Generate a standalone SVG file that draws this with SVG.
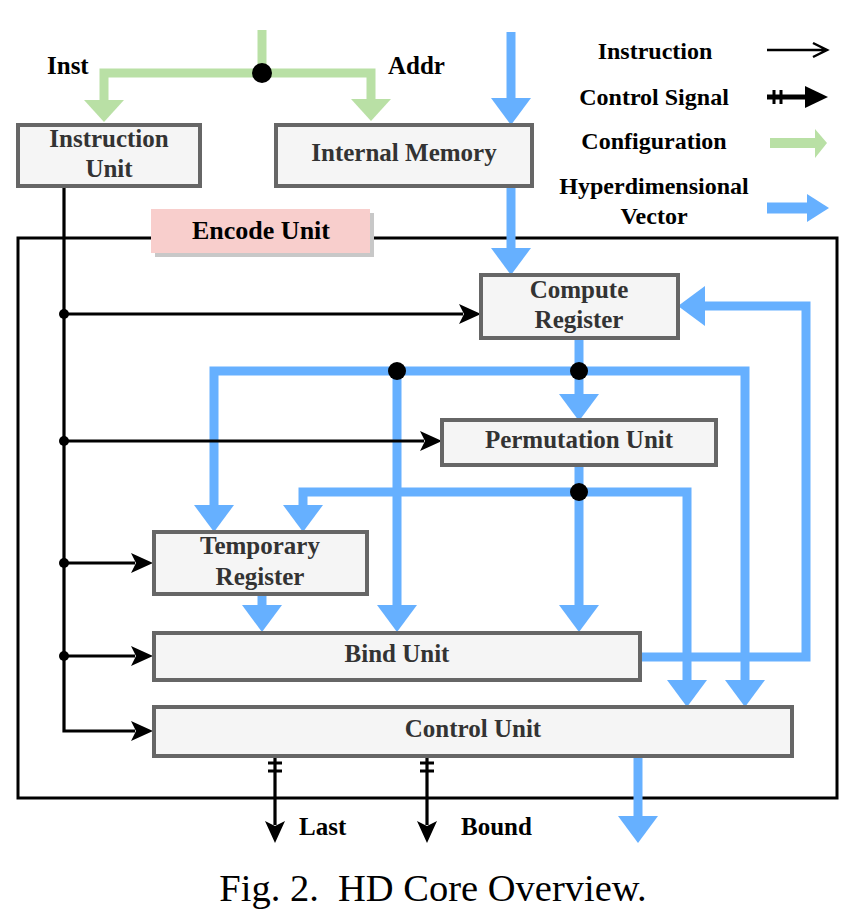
<svg xmlns="http://www.w3.org/2000/svg" width="868" height="917" viewBox="0 0 868 917">
<style>
.box{fill:#f5f5f5;stroke:#666666;stroke-width:4}
.lbl{font-family:"Liberation Serif","Times New Roman",serif;font-weight:bold;font-size:25px;fill:#333333;text-anchor:middle}
.leg{font-family:"Liberation Serif","Times New Roman",serif;font-weight:bold;font-size:24px;fill:#000;text-anchor:middle}
.top{font-family:"Liberation Serif","Times New Roman",serif;font-weight:bold;font-size:25px;fill:#000}
.blue{fill:none;stroke:#66b0ff;stroke-width:9;stroke-linejoin:miter}
.green{fill:none;stroke:#b9e0a5;stroke-width:9;stroke-linejoin:miter}
.blk{fill:none;stroke:#000;stroke-width:3.2}
</style>
<defs>
<marker id="ab" markerUnits="userSpaceOnUse" viewBox="0 0 27 40" markerWidth="27" markerHeight="40" refX="0" refY="20" orient="auto"><path d="M0,0 L27,20 L0,40 Z" fill="#66b0ff"/></marker>
<marker id="ag" markerUnits="userSpaceOnUse" viewBox="0 0 22 40" markerWidth="22" markerHeight="40" refX="0" refY="20" orient="auto"><path d="M0,0 L22,20 L0,40 Z" fill="#b9e0a5"/></marker>
<marker id="ak" markerUnits="userSpaceOnUse" viewBox="0 0 22 20" markerWidth="22" markerHeight="20" refX="4" refY="10" orient="auto"><path d="M0,0 L22,10 L0,20 L5,10 Z" fill="#000"/></marker>
</defs>
<rect width="868" height="917" fill="#fff"/>

<g id="encode-unit">
<rect x="18" y="238" width="819" height="560" fill="none" stroke="#000" stroke-width="3"/>
<rect x="155" y="213" width="219" height="44" fill="#c8c8c8"/>
<rect x="151" y="209" width="219" height="44" fill="#f8cecc"/>
<text class="lbl" x="261" y="239" style="font-size:26px;fill:#000">Encode Unit</text>
</g>

<g id="connectors">
<path class="green" d="M262,30 V73"/>
<path class="green" d="M262,73 H104 V100" marker-end="url(#ag)"/>
<path class="green" d="M262,73 H371 V99" marker-end="url(#ag)"/>
<circle cx="262" cy="73" r="10" fill="#000"/>

<path class="blue" d="M511,32 V98" marker-end="url(#ab)"/>
<path class="blue" d="M511,186 V248" marker-end="url(#ab)"/>
<path class="blue" d="M579,338 V394" marker-end="url(#ab)"/>
<path class="blue" d="M579,371 H214 V505" marker-end="url(#ab)"/>
<path class="blue" d="M579,371 H745 V680" marker-end="url(#ab)"/>
<path class="blue" d="M397,371 V605" marker-end="url(#ab)"/>
<path class="blue" d="M579,465 V605" marker-end="url(#ab)"/>
<path class="blue" d="M579,492 H303 V505" marker-end="url(#ab)"/>
<path class="blue" d="M579,492 H687 V680" marker-end="url(#ab)"/>
<path class="blue" d="M262,594 V605" marker-end="url(#ab)"/>
<path class="blue" d="M640,657 H806 V306 H705" marker-end="url(#ab)"/>
<path class="blue" d="M638,756 V816" marker-end="url(#ab)"/>
<circle cx="397" cy="371" r="9" fill="#000"/>
<circle cx="579" cy="371" r="9" fill="#000"/>
<circle cx="579" cy="492" r="9" fill="#000"/>

<path class="blk" d="M64,186 V731 H135" marker-end="url(#ak)"/>
<path class="blk" d="M64,314 H463" marker-end="url(#ak)"/>
<path class="blk" d="M64,441 H424" marker-end="url(#ak)"/>
<path class="blk" d="M64,563 H135" marker-end="url(#ak)"/>
<path class="blk" d="M64,656 H135" marker-end="url(#ak)"/>
<circle cx="64" cy="314" r="5" fill="#000"/>
<circle cx="64" cy="441" r="5" fill="#000"/>
<circle cx="64" cy="563" r="5" fill="#000"/>
<circle cx="64" cy="656" r="5" fill="#000"/>

<path class="blk" d="M275,756 V825" marker-end="url(#ak)"/>
<path class="blk" d="M427,756 V825" marker-end="url(#ak)"/>
<path class="blk" d="M268,763 H282 M268,771 H282 M420,763 H434 M420,771 H434"/>
</g>

<g id="instruction-unit">
<rect class="box" x="18" y="125" width="182" height="61"/>
<text class="lbl" x="109" y="147">Instruction</text>
<text class="lbl" x="109" y="177">Unit</text>
</g>
<g id="internal-memory">
<rect class="box" x="276" y="125" width="256" height="61"/>
<text class="lbl" x="404" y="161">Internal Memory</text>
</g>
<g id="compute-register">
<rect class="box" x="481" y="275" width="197" height="63"/>
<text class="lbl" x="579" y="298">Compute</text>
<text class="lbl" x="579" y="328">Register</text>
</g>
<g id="permutation-unit">
<rect class="box" x="442" y="420" width="274" height="45"/>
<text class="lbl" x="579" y="448">Permutation Unit</text>
</g>
<g id="temporary-register">
<rect class="box" x="154" y="532" width="213" height="62"/>
<text class="lbl" x="260" y="554">Temporary</text>
<text class="lbl" x="260" y="585">Register</text>
</g>
<g id="bind-unit">
<rect class="box" x="154" y="633" width="486" height="47"/>
<text class="lbl" x="397" y="662">Bind Unit</text>
</g>
<g id="control-unit">
<rect class="box" x="154" y="707" width="638" height="49"/>
<text class="lbl" x="473" y="737">Control Unit</text>
</g>

<g id="labels">
<text class="top" x="47" y="74">Inst</text>
<text class="top" x="388" y="74">Addr</text>
<text class="top" x="299" y="835">Last</text>
<text class="top" x="461" y="835">Bound</text>
</g>

<g id="legend">
<text class="leg" x="655" y="59">Instruction</text>
<path d="M767,50 H826 M813,43 L827,50 L813,57" fill="none" stroke="#000" stroke-width="2.5"/>
<text class="leg" x="654" y="105">Control Signal</text>
<path d="M767,97 H808" stroke="#000" stroke-width="5"/>
<path d="M805,86 L828,97 L805,108 Z" fill="#000"/>
<path d="M774,90 V104 M781,90 V104" stroke="#000" stroke-width="3"/>
<text class="leg" x="654" y="149">Configuration</text>
<path d="M770,143 H815" stroke="#b9e0a5" stroke-width="10"/>
<path d="M815,129 L827,143 L815,158 Z" fill="#b9e0a5"/>
<text class="leg" x="654" y="194">Hyperdimensional</text>
<text class="leg" x="654" y="224">Vector</text>
<path d="M767,208 H808" stroke="#66b0ff" stroke-width="11"/>
<path d="M807,194 L829,208 L807,222 Z" fill="#66b0ff"/>
</g>

<text x="433" y="901" text-anchor="middle" xml:space="preserve" style="font-family:'Liberation Serif','Times New Roman',serif;font-size:38.5px;fill:#000">Fig. 2.  HD Core Overview.</text>
</svg>
